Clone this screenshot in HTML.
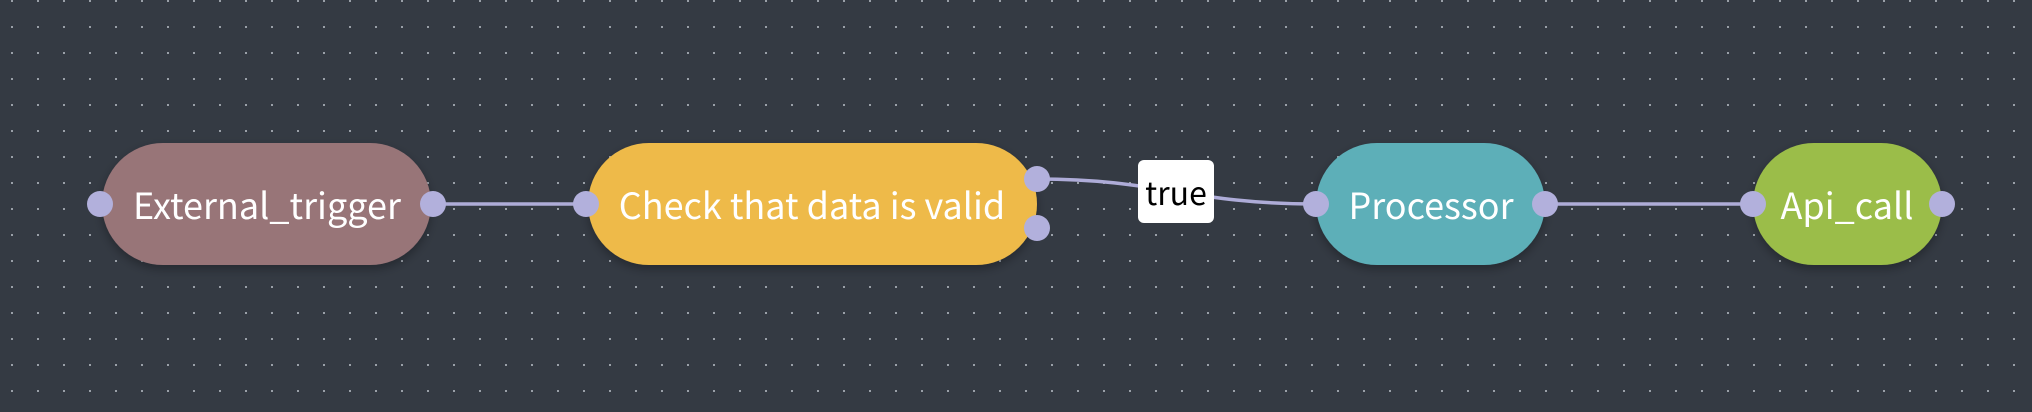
<!DOCTYPE html>
<html><head><meta charset="utf-8"><style>
html,body{margin:0;padding:0;background:#343a43;}
svg{display:block}
text{font-family:"Noto Sans CJK SC","Liberation Sans",sans-serif;}
</style></head><body>
<svg width="2032" height="412" viewBox="0 0 2032 412" xmlns="http://www.w3.org/2000/svg">
<defs>
<pattern id="dots" x="11" y="0" width="26" height="26" patternUnits="userSpaceOnUse">
<rect x="0" y="0" width="2" height="2" fill="#9aa0a8"/>
</pattern>
<filter id="sh" x="-20%" y="-30%" width="140%" height="160%">
<feDropShadow dx="0" dy="4" stdDeviation="5" flood-color="#000" flood-opacity="0.3"/>
</filter>
</defs>
<rect width="2032" height="412" fill="#343a43"/>
<rect width="2032" height="412" fill="url(#dots)"/>
<g stroke="#aeacd8" stroke-width="3.5" fill="none">
<line x1="431" y1="204" x2="588" y2="204"/>
<path d="M1037 179 C1160 179 1190 204 1316 204"/>
<line x1="1545" y1="204" x2="1753" y2="204"/>
</g>
<g filter="url(#sh)">
<rect x="102" y="143" width="329" height="122" rx="61" fill="#987478"/>
<rect x="588" y="143" width="449" height="122" rx="61" fill="#eeba48"/>
<rect x="1316" y="143" width="229" height="122" rx="61" fill="#5dafb8"/>
<rect x="1753" y="143" width="189" height="122" rx="61" fill="#9bbd4a"/>
</g>
<g fill="#ffffff" font-size="36" text-anchor="middle" dominant-baseline="central">
<text x="267" y="204">External_trigger</text>
<text x="812" y="204">Check that data is valid</text>
<text x="1431" y="204">Processor</text>
<text x="1847" y="204">Api_call</text>
</g>
<g fill="#b2b0dc">
<circle cx="100" cy="204" r="13"/>
<circle cx="433" cy="204" r="13"/>
<circle cx="586" cy="204" r="13"/>
<circle cx="1037" cy="179" r="13"/>
<circle cx="1037" cy="228" r="13"/>
<circle cx="1316" cy="204" r="13"/>
<circle cx="1545" cy="204" r="13"/>
<circle cx="1753" cy="204" r="13"/>
<circle cx="1942" cy="204" r="13"/>
</g>
<rect x="1138" y="160" width="76" height="63" rx="6" fill="#ffffff"/>
<text x="1176" y="192" font-size="32" fill="#000" text-anchor="middle" dominant-baseline="central">true</text>
</svg>
</body></html>
